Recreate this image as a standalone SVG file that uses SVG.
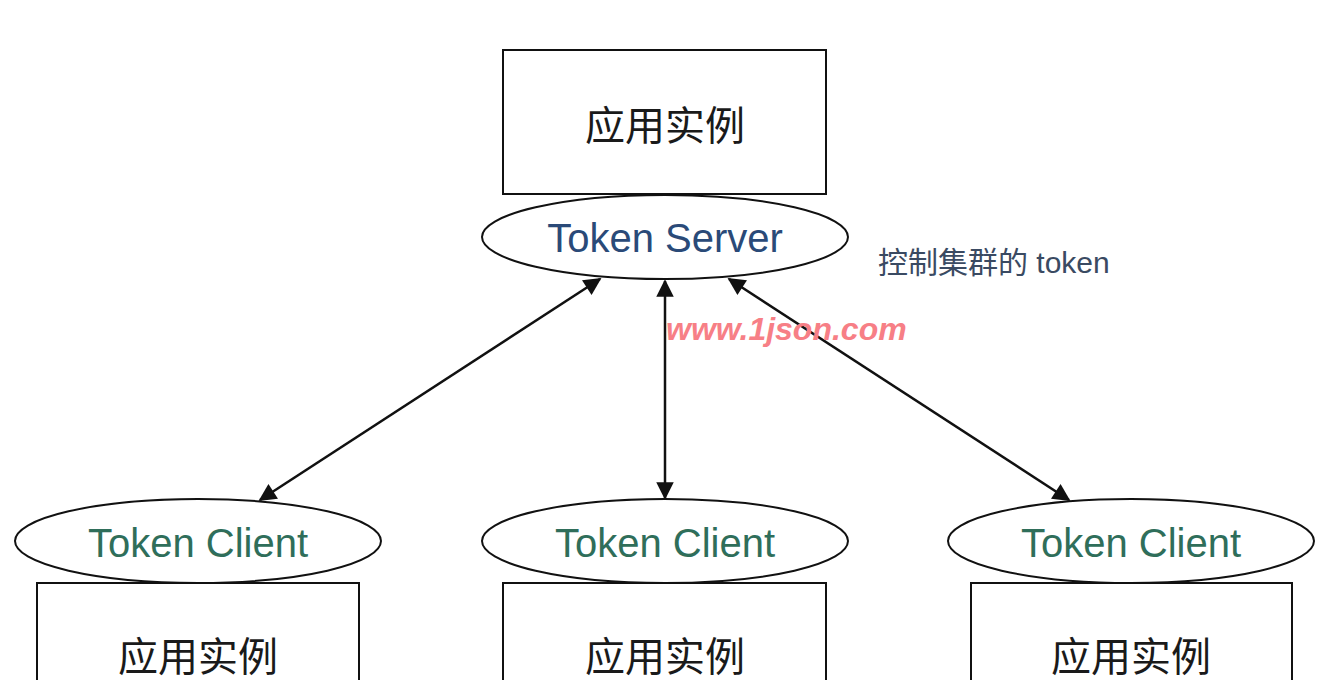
<svg xmlns="http://www.w3.org/2000/svg" width="1326" height="680" viewBox="0 0 1326 680">
<style>
.box{fill:#fff;stroke:#111;stroke-width:2}
.ell{fill:#fff;stroke:#111;stroke-width:2}
.cn{font-family:"Noto Sans CJK SC","Noto Sans",sans-serif;font-size:40px;fill:#1a1a1a;text-anchor:middle}
.srv{font-family:"Liberation Sans","Noto Sans",sans-serif;font-size:40px;fill:#2a4a78;text-anchor:middle}
.cli{font-family:"Liberation Sans","Noto Sans",sans-serif;font-size:40px;fill:#2f6e5a;text-anchor:middle}
.note{font-family:"Liberation Sans","Noto Sans CJK SC",sans-serif;font-size:30px;fill:#3a4a62}
.wm{font-family:"Liberation Sans",sans-serif;font-size:32px;font-weight:bold;font-style:italic;fill:#f77f86}
.conn{stroke:#111;stroke-width:2.5;fill:none}
</style>
<defs>
<marker id="ah" viewBox="0 0 10 10" refX="9" refY="5" markerWidth="8" markerHeight="7" markerUnits="strokeWidth" orient="auto-start-reverse">
<path d="M0,0 L10,5 L0,10 z" fill="#111"/>
</marker>
</defs>
<rect width="1326" height="680" fill="#fff"/>
<g id="connectors">
<line class="conn" x1="600" y1="279" x2="260" y2="500" marker-start="url(#ah)" marker-end="url(#ah)"/>
<line class="conn" x1="665" y1="281" x2="665" y2="498" marker-start="url(#ah)" marker-end="url(#ah)"/>
<line class="conn" x1="729" y1="279" x2="1069" y2="500" marker-start="url(#ah)" marker-end="url(#ah)"/>
</g>
<g id="top-app">
<rect class="box" x="503" y="50" width="323" height="144"/>
<text class="cn" x="665" y="140">应用实例</text>
</g>
<g id="token-server">
<ellipse class="ell" cx="665" cy="237" rx="183" ry="42"/>
<text class="srv" x="665" y="252">Token Server</text>
</g>
<g id="server-note">
<text class="note" x="878" y="273">控制集群的 token</text>
</g>
<g id="client-left">
<ellipse class="ell" cx="198" cy="541" rx="183" ry="42"/>
<text class="cli" x="198" y="557">Token Client</text>
</g>
<g id="client-mid">
<ellipse class="ell" cx="665" cy="541" rx="183" ry="42"/>
<text class="cli" x="665" y="557">Token Client</text>
</g>
<g id="client-right">
<ellipse class="ell" cx="1131" cy="541" rx="183" ry="42"/>
<text class="cli" x="1131" y="557">Token Client</text>
</g>
<g id="app-left">
<rect class="box" x="37" y="583" width="322" height="110"/>
<text class="cn" x="198" y="671">应用实例</text>
</g>
<g id="app-mid">
<rect class="box" x="503" y="583" width="323" height="110"/>
<text class="cn" x="665" y="671">应用实例</text>
</g>
<g id="app-right">
<rect class="box" x="971" y="583" width="321" height="110"/>
<text class="cn" x="1131" y="671">应用实例</text>
</g>
<text class="wm" x="666" y="340">www.1json.com</text>
</svg>
